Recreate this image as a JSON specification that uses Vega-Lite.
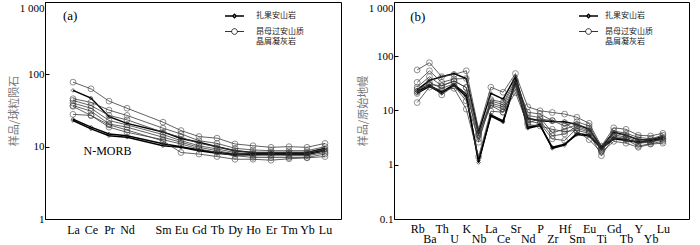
{
 "$schema": "https://vega.github.io/schema/vega-lite/v6.json",
 "padding": {"left": 7, "top": 1, "right": 0, "bottom": 0},
 "spacing": 14,
 "resolve": {"scale": {"strokeWidth": "independent"}, "legend": {"strokeWidth": "independent"}},
 "config": {
  "view": {"stroke": "#000", "strokeWidth": 1},
  "axis": {"grid": false, "domainColor": "#000", "tickColor": "#000", "labelFont": "Liberation Serif", "labelColor": "#000", "titleFont": "Noto Sans CJK SC", "titleColor": "#777", "titleFontWeight": "normal", "titleFontSize": 11},
  "font": "Liberation Serif"
 },
 "datasets": {
  "ree": [
   {"s":"S1","g":"扎果安山岩","e":"La","v":60},{"s":"S1","g":"扎果安山岩","e":"Ce","v":47},{"s":"S1","g":"扎果安山岩","e":"Pr","v":26},{"s":"S1","g":"扎果安山岩","e":"Nd","v":21},{"s":"S1","g":"扎果安山岩","e":"Sm","v":16},{"s":"S1","g":"扎果安山岩","e":"Eu","v":13},{"s":"S1","g":"扎果安山岩","e":"Gd","v":11.5},{"s":"S1","g":"扎果安山岩","e":"Tb","v":10},{"s":"S1","g":"扎果安山岩","e":"Dy","v":8.8},{"s":"S1","g":"扎果安山岩","e":"Ho","v":8.3},{"s":"S1","g":"扎果安山岩","e":"Er","v":8.3},{"s":"S1","g":"扎果安山岩","e":"Tm","v":8.3},{"s":"S1","g":"扎果安山岩","e":"Yb","v":8.3},{"s":"S1","g":"扎果安山岩","e":"Lu","v":9.5},
   {"s":"S2","g":"扎果安山岩","e":"La","v":24},{"s":"S2","g":"扎果安山岩","e":"Ce","v":18.6},{"s":"S2","g":"扎果安山岩","e":"Pr","v":15},{"s":"S2","g":"扎果安山岩","e":"Nd","v":14.2},{"s":"S2","g":"扎果安山岩","e":"Sm","v":11},{"s":"S2","g":"扎果安山岩","e":"Eu","v":10},{"s":"S2","g":"扎果安山岩","e":"Gd","v":9},{"s":"S2","g":"扎果安山岩","e":"Tb","v":8.3},{"s":"S2","g":"扎果安山岩","e":"Dy","v":7.9},{"s":"S2","g":"扎果安山岩","e":"Ho","v":8},{"s":"S2","g":"扎果安山岩","e":"Er","v":8.1},{"s":"S2","g":"扎果安山岩","e":"Tm","v":8},{"s":"S2","g":"扎果安山岩","e":"Yb","v":8},{"s":"S2","g":"扎果安山岩","e":"Lu","v":9},
   {"s":"S3","g":"扎果安山岩","e":"La","v":23},{"s":"S3","g":"扎果安山岩","e":"Ce","v":17.6},{"s":"S3","g":"扎果安山岩","e":"Pr","v":14.2},{"s":"S3","g":"扎果安山岩","e":"Nd","v":13.5},{"s":"S3","g":"扎果安山岩","e":"Sm","v":10.3},{"s":"S3","g":"扎果安山岩","e":"Eu","v":9.8},{"s":"S3","g":"扎果安山岩","e":"Gd","v":8.8},{"s":"S3","g":"扎果安山岩","e":"Tb","v":8.1},{"s":"S3","g":"扎果安山岩","e":"Dy","v":7.7},{"s":"S3","g":"扎果安山岩","e":"Ho","v":7.8},{"s":"S3","g":"扎果安山岩","e":"Er","v":7.9},{"s":"S3","g":"扎果安山岩","e":"Tm","v":7.8},{"s":"S3","g":"扎果安山岩","e":"Yb","v":7.8},{"s":"S3","g":"扎果安山岩","e":"Lu","v":8.8},
   {"s":"S4","g":"昂母过安山质晶屑凝灰岩","e":"La","v":78},{"s":"S4","g":"昂母过安山质晶屑凝灰岩","e":"Ce","v":63},{"s":"S4","g":"昂母过安山质晶屑凝灰岩","e":"Pr","v":42.6},{"s":"S4","g":"昂母过安山质晶屑凝灰岩","e":"Nd","v":34},{"s":"S4","g":"昂母过安山质晶屑凝灰岩","e":"Sm","v":21.8},{"s":"S4","g":"昂母过安山质晶屑凝灰岩","e":"Eu","v":16.7},{"s":"S4","g":"昂母过安山质晶屑凝灰岩","e":"Gd","v":13.8},{"s":"S4","g":"昂母过安山质晶屑凝灰岩","e":"Tb","v":13.1},{"s":"S4","g":"昂母过安山质晶屑凝灰岩","e":"Dy","v":10.9},{"s":"S4","g":"昂母过安山质晶屑凝灰岩","e":"Ho","v":10.3},{"s":"S4","g":"昂母过安山质晶屑凝灰岩","e":"Er","v":9.8},{"s":"S4","g":"昂母过安山质晶屑凝灰岩","e":"Tm","v":10},{"s":"S4","g":"昂母过安山质晶屑凝灰岩","e":"Yb","v":9.8},{"s":"S4","g":"昂母过安山质晶屑凝灰岩","e":"Lu","v":11.1},
   {"s":"S5","g":"昂母过安山质晶屑凝灰岩","e":"La","v":46},{"s":"S5","g":"昂母过安山质晶屑凝灰岩","e":"Ce","v":41},{"s":"S5","g":"昂母过安山质晶屑凝灰岩","e":"Pr","v":32},{"s":"S5","g":"昂母过安山质晶屑凝灰岩","e":"Nd","v":27},{"s":"S5","g":"昂母过安山质晶屑凝灰岩","e":"Sm","v":18},{"s":"S5","g":"昂母过安山质晶屑凝灰岩","e":"Eu","v":15},{"s":"S5","g":"昂母过安山质晶屑凝灰岩","e":"Gd","v":12.1},{"s":"S5","g":"昂母过安山质晶屑凝灰岩","e":"Tb","v":11.1},{"s":"S5","g":"昂母过安山质晶屑凝灰岩","e":"Dy","v":9.5},{"s":"S5","g":"昂母过安山质晶屑凝灰岩","e":"Ho","v":9},{"s":"S5","g":"昂母过安山质晶屑凝灰岩","e":"Er","v":8.8},{"s":"S5","g":"昂母过安山质晶屑凝灰岩","e":"Tm","v":8.8},{"s":"S5","g":"昂母过安山质晶屑凝灰岩","e":"Yb","v":8.8},{"s":"S5","g":"昂母过安山质晶屑凝灰岩","e":"Lu","v":10},
   {"s":"S6","g":"昂母过安山质晶屑凝灰岩","e":"La","v":43.5},{"s":"S6","g":"昂母过安山质晶屑凝灰岩","e":"Ce","v":37},{"s":"S6","g":"昂母过安山质晶屑凝灰岩","e":"Pr","v":27},{"s":"S6","g":"昂母过安山质晶屑凝灰岩","e":"Nd","v":23.5},{"s":"S6","g":"昂母过安山质晶屑凝灰岩","e":"Sm","v":15.8},{"s":"S6","g":"昂母过安山质晶屑凝灰岩","e":"Eu","v":13.5},{"s":"S6","g":"昂母过安山质晶屑凝灰岩","e":"Gd","v":11.1},{"s":"S6","g":"昂母过安山质晶屑凝灰岩","e":"Tb","v":10},{"s":"S6","g":"昂母过安山质晶屑凝灰岩","e":"Dy","v":8.8},{"s":"S6","g":"昂母过安山质晶屑凝灰岩","e":"Ho","v":8.3},{"s":"S6","g":"昂母过安山质晶屑凝灰岩","e":"Er","v":8.3},{"s":"S6","g":"昂母过安山质晶屑凝灰岩","e":"Tm","v":8.3},{"s":"S6","g":"昂母过安山质晶屑凝灰岩","e":"Yb","v":8.3},{"s":"S6","g":"昂母过安山质晶屑凝灰岩","e":"Lu","v":9.3},
   {"s":"S7","g":"昂母过安山质晶屑凝灰岩","e":"La","v":40},{"s":"S7","g":"昂母过安山质晶屑凝灰岩","e":"Ce","v":34},{"s":"S7","g":"昂母过安山质晶屑凝灰岩","e":"Pr","v":23},{"s":"S7","g":"昂母过安山质晶屑凝灰岩","e":"Nd","v":20},{"s":"S7","g":"昂母过安山质晶屑凝灰岩","e":"Sm","v":14.7},{"s":"S7","g":"昂母过安山质晶屑凝灰岩","e":"Eu","v":12.1},{"s":"S7","g":"昂母过安山质晶屑凝灰岩","e":"Gd","v":10.3},{"s":"S7","g":"昂母过安山质晶屑凝灰岩","e":"Tb","v":9.3},{"s":"S7","g":"昂母过安山质晶屑凝灰岩","e":"Dy","v":8.3},{"s":"S7","g":"昂母过安山质晶屑凝灰岩","e":"Ho","v":7.9},{"s":"S7","g":"昂母过安山质晶屑凝灰岩","e":"Er","v":7.9},{"s":"S7","g":"昂母过安山质晶屑凝灰岩","e":"Tm","v":7.9},{"s":"S7","g":"昂母过安山质晶屑凝灰岩","e":"Yb","v":7.9},{"s":"S7","g":"昂母过安山质晶屑凝灰岩","e":"Lu","v":8.8},
   {"s":"S8","g":"昂母过安山质晶屑凝灰岩","e":"La","v":37},{"s":"S8","g":"昂母过安山质晶屑凝灰岩","e":"Ce","v":31},{"s":"S8","g":"昂母过安山质晶屑凝灰岩","e":"Pr","v":20.6},{"s":"S8","g":"昂母过安山质晶屑凝灰岩","e":"Nd","v":18.6},{"s":"S8","g":"昂母过安山质晶屑凝灰岩","e":"Sm","v":13.5},{"s":"S8","g":"昂母过安山质晶屑凝灰岩","e":"Eu","v":11.5},{"s":"S8","g":"昂母过安山质晶屑凝灰岩","e":"Gd","v":9.8},{"s":"S8","g":"昂母过安山质晶屑凝灰岩","e":"Tb","v":8.8},{"s":"S8","g":"昂母过安山质晶屑凝灰岩","e":"Dy","v":7.9},{"s":"S8","g":"昂母过安山质晶屑凝灰岩","e":"Ho","v":7.5},{"s":"S8","g":"昂母过安山质晶屑凝灰岩","e":"Er","v":7.5},{"s":"S8","g":"昂母过安山质晶屑凝灰岩","e":"Tm","v":7.5},{"s":"S8","g":"昂母过安山质晶屑凝灰岩","e":"Yb","v":7.5},{"s":"S8","g":"昂母过安山质晶屑凝灰岩","e":"Lu","v":8.3},
   {"s":"S9","g":"昂母过安山质晶屑凝灰岩","e":"La","v":28},{"s":"S9","g":"昂母过安山质晶屑凝灰岩","e":"Ce","v":27},{"s":"S9","g":"昂母过安山质晶屑凝灰岩","e":"Pr","v":18.6},{"s":"S9","g":"昂母过安山质晶屑凝灰岩","e":"Nd","v":15.8},{"s":"S9","g":"昂母过安山质晶屑凝灰岩","e":"Sm","v":12.5},{"s":"S9","g":"昂母过安山质晶屑凝灰岩","e":"Eu","v":10.9},{"s":"S9","g":"昂母过安山质晶屑凝灰岩","e":"Gd","v":9.3},{"s":"S9","g":"昂母过安山质晶屑凝灰岩","e":"Tb","v":8.3},{"s":"S9","g":"昂母过安山质晶屑凝灰岩","e":"Dy","v":7.5},{"s":"S9","g":"昂母过安山质晶屑凝灰岩","e":"Ho","v":7.1},{"s":"S9","g":"昂母过安山质晶屑凝灰岩","e":"Er","v":7.1},{"s":"S9","g":"昂母过安山质晶屑凝灰岩","e":"Tm","v":7.1},{"s":"S9","g":"昂母过安山质晶屑凝灰岩","e":"Yb","v":7.1},{"s":"S9","g":"昂母过安山质晶屑凝灰岩","e":"Lu","v":7.9},
   {"s":"S10","g":"昂母过安山质晶屑凝灰岩","e":"La","v":36},{"s":"S10","g":"昂母过安山质晶屑凝灰岩","e":"Ce","v":27},{"s":"S10","g":"昂母过安山质晶屑凝灰岩","e":"Pr","v":20},{"s":"S10","g":"昂母过安山质晶屑凝灰岩","e":"Nd","v":17},{"s":"S10","g":"昂母过安山质晶屑凝灰岩","e":"Sm","v":12},{"s":"S10","g":"昂母过安山质晶屑凝灰岩","e":"Eu","v":8.3},{"s":"S10","g":"昂母过安山质晶屑凝灰岩","e":"Gd","v":7.9},{"s":"S10","g":"昂母过安山质晶屑凝灰岩","e":"Tb","v":7.3},{"s":"S10","g":"昂母过安山质晶屑凝灰岩","e":"Dy","v":6.7},{"s":"S10","g":"昂母过安山质晶屑凝灰岩","e":"Ho","v":6.7},{"s":"S10","g":"昂母过安山质晶屑凝灰岩","e":"Er","v":6.5},{"s":"S10","g":"昂母过安山质晶屑凝灰岩","e":"Tm","v":6.8},{"s":"S10","g":"昂母过安山质晶屑凝灰岩","e":"Yb","v":7},{"s":"S10","g":"昂母过安山质晶屑凝灰岩","e":"Lu","v":7.3}
  ],
  "pm": [
   {"s":"S1","g":"扎果安山岩","e":"Rb","v":24},{"s":"S1","g":"扎果安山岩","e":"Ba","v":36},{"s":"S1","g":"扎果安山岩","e":"Th","v":42},{"s":"S1","g":"扎果安山岩","e":"U","v":48},{"s":"S1","g":"扎果安山岩","e":"K","v":39},{"s":"S1","g":"扎果安山岩","e":"Nb","v":4.0},{"s":"S1","g":"扎果安山岩","e":"La","v":20.7},{"s":"S1","g":"扎果安山岩","e":"Ce","v":16.2},{"s":"S1","g":"扎果安山岩","e":"Sr","v":42},{"s":"S1","g":"扎果安山岩","e":"Nd","v":7.2},{"s":"S1","g":"扎果安山岩","e":"P","v":6.5},{"s":"S1","g":"扎果安山岩","e":"Zr","v":6.3},{"s":"S1","g":"扎果安山岩","e":"Hf","v":6.2},{"s":"S1","g":"扎果安山岩","e":"Sm","v":5.5},{"s":"S1","g":"扎果安山岩","e":"Eu","v":4.5},{"s":"S1","g":"扎果安山岩","e":"Ti","v":2.1},{"s":"S1","g":"扎果安山岩","e":"Gd","v":4.0},{"s":"S1","g":"扎果安山岩","e":"Tb","v":3.5},{"s":"S1","g":"扎果安山岩","e":"Y","v":2.9},{"s":"S1","g":"扎果安山岩","e":"Yb","v":2.9},{"s":"S1","g":"扎果安山岩","e":"Lu","v":3.3},
   {"s":"S2","g":"扎果安山岩","e":"Rb","v":22.4},{"s":"S2","g":"扎果安山岩","e":"Ba","v":29},{"s":"S2","g":"扎果安山岩","e":"Th","v":22},{"s":"S2","g":"扎果安山岩","e":"U","v":30},{"s":"S2","g":"扎果安山岩","e":"K","v":20},{"s":"S2","g":"扎果安山岩","e":"Nb","v":1.1},{"s":"S2","g":"扎果安山岩","e":"La","v":8.3},{"s":"S2","g":"扎果安山岩","e":"Ce","v":6.4},{"s":"S2","g":"扎果安山岩","e":"Sr","v":36},{"s":"S2","g":"扎果安山岩","e":"Nd","v":4.9},{"s":"S2","g":"扎果安山岩","e":"P","v":5.5},{"s":"S2","g":"扎果安山岩","e":"Zr","v":2.0},{"s":"S2","g":"扎果安山岩","e":"Hf","v":2.3},{"s":"S2","g":"扎果安山岩","e":"Sm","v":3.8},{"s":"S2","g":"扎果安山岩","e":"Eu","v":3.5},{"s":"S2","g":"扎果安山岩","e":"Ti","v":2.1},{"s":"S2","g":"扎果安山岩","e":"Gd","v":3.1},{"s":"S2","g":"扎果安山岩","e":"Tb","v":2.9},{"s":"S2","g":"扎果安山岩","e":"Y","v":2.6},{"s":"S2","g":"扎果安山岩","e":"Yb","v":2.8},{"s":"S2","g":"扎果安山岩","e":"Lu","v":3.1},
   {"s":"S3","g":"扎果安山岩","e":"Rb","v":20.6},{"s":"S3","g":"扎果安山岩","e":"Ba","v":28},{"s":"S3","g":"扎果安山岩","e":"Th","v":21},{"s":"S3","g":"扎果安山岩","e":"U","v":29},{"s":"S3","g":"扎果安山岩","e":"K","v":18},{"s":"S3","g":"扎果安山岩","e":"Nb","v":1.2},{"s":"S3","g":"扎果安山岩","e":"La","v":7.9},{"s":"S3","g":"扎果安山岩","e":"Ce","v":6.1},{"s":"S3","g":"扎果安山岩","e":"Sr","v":33},{"s":"S3","g":"扎果安山岩","e":"Nd","v":4.7},{"s":"S3","g":"扎果安山岩","e":"P","v":5.3},{"s":"S3","g":"扎果安山岩","e":"Zr","v":2.1},{"s":"S3","g":"扎果安山岩","e":"Hf","v":2.4},{"s":"S3","g":"扎果安山岩","e":"Sm","v":3.6},{"s":"S3","g":"扎果安山岩","e":"Eu","v":3.4},{"s":"S3","g":"扎果安山岩","e":"Ti","v":2.0},{"s":"S3","g":"扎果安山岩","e":"Gd","v":3.0},{"s":"S3","g":"扎果安山岩","e":"Tb","v":2.8},{"s":"S3","g":"扎果安山岩","e":"Y","v":2.6},{"s":"S3","g":"扎果安山岩","e":"Yb","v":2.7},{"s":"S3","g":"扎果安山岩","e":"Lu","v":3.0},
   {"s":"S4","g":"昂母过安山质晶屑凝灰岩","e":"Rb","v":56},{"s":"S4","g":"昂母过安山质晶屑凝灰岩","e":"Ba","v":76},{"s":"S4","g":"昂母过安山质晶屑凝灰岩","e":"Th","v":42},{"s":"S4","g":"昂母过安山质晶屑凝灰岩","e":"U","v":46},{"s":"S4","g":"昂母过安山质晶屑凝灰岩","e":"K","v":54},{"s":"S4","g":"昂母过安山质晶屑凝灰岩","e":"Nb","v":4.5},{"s":"S4","g":"昂母过安山质晶屑凝灰岩","e":"La","v":26.9},{"s":"S4","g":"昂母过安山质晶屑凝灰岩","e":"Ce","v":21.7},{"s":"S4","g":"昂母过安山质晶屑凝灰岩","e":"Sr","v":48},{"s":"S4","g":"昂母过安山质晶屑凝灰岩","e":"Nd","v":11.7},{"s":"S4","g":"昂母过安山质晶屑凝灰岩","e":"P","v":9.9},{"s":"S4","g":"昂母过安山质晶屑凝灰岩","e":"Zr","v":9.2},{"s":"S4","g":"昂母过安山质晶屑凝灰岩","e":"Hf","v":8.6},{"s":"S4","g":"昂母过安山质晶屑凝灰岩","e":"Sm","v":7.5},{"s":"S4","g":"昂母过安山质晶屑凝灰岩","e":"Eu","v":5.8},{"s":"S4","g":"昂母过安山质晶屑凝灰岩","e":"Ti","v":2.2},{"s":"S4","g":"昂母过安山质晶屑凝灰岩","e":"Gd","v":4.8},{"s":"S4","g":"昂母过安山质晶屑凝灰岩","e":"Tb","v":4.5},{"s":"S4","g":"昂母过安山质晶屑凝灰岩","e":"Y","v":3.5},{"s":"S4","g":"昂母过安山质晶屑凝灰岩","e":"Yb","v":3.4},{"s":"S4","g":"昂母过安山质晶屑凝灰岩","e":"Lu","v":3.8},
   {"s":"S5","g":"昂母过安山质晶屑凝灰岩","e":"Rb","v":33},{"s":"S5","g":"昂母过安山质晶屑凝灰岩","e":"Ba","v":54},{"s":"S5","g":"昂母过安山质晶屑凝灰岩","e":"Th","v":33},{"s":"S5","g":"昂母过安山质晶屑凝灰岩","e":"U","v":38},{"s":"S5","g":"昂母过安山质晶屑凝灰岩","e":"K","v":39},{"s":"S5","g":"昂母过安山质晶屑凝灰岩","e":"Nb","v":3.4},{"s":"S5","g":"昂母过安山质晶屑凝灰岩","e":"La","v":15.9},{"s":"S5","g":"昂母过安山质晶屑凝灰岩","e":"Ce","v":14.1},{"s":"S5","g":"昂母过安山质晶屑凝灰岩","e":"Sr","v":36},{"s":"S5","g":"昂母过安山质晶屑凝灰岩","e":"Nd","v":9.3},{"s":"S5","g":"昂母过安山质晶屑凝灰岩","e":"P","v":8.6},{"s":"S5","g":"昂母过安山质晶屑凝灰岩","e":"Zr","v":6.5},{"s":"S5","g":"昂母过安山质晶屑凝灰岩","e":"Hf","v":5.2},{"s":"S5","g":"昂母过安山质晶屑凝灰岩","e":"Sm","v":6.2},{"s":"S5","g":"昂母过安山质晶屑凝灰岩","e":"Eu","v":5.2},{"s":"S5","g":"昂母过安山质晶屑凝灰岩","e":"Ti","v":2.1},{"s":"S5","g":"昂母过安山质晶屑凝灰岩","e":"Gd","v":4.2},{"s":"S5","g":"昂母过安山质晶屑凝灰岩","e":"Tb","v":3.8},{"s":"S5","g":"昂母过安山质晶屑凝灰岩","e":"Y","v":3.2},{"s":"S5","g":"昂母过安山质晶屑凝灰岩","e":"Yb","v":3.0},{"s":"S5","g":"昂母过安山质晶屑凝灰岩","e":"Lu","v":3.5},
   {"s":"S6","g":"昂母过安山质晶屑凝灰岩","e":"Rb","v":27},{"s":"S6","g":"昂母过安山质晶屑凝灰岩","e":"Ba","v":42},{"s":"S6","g":"昂母过安山质晶屑凝灰岩","e":"Th","v":28.5},{"s":"S6","g":"昂母过安山质晶屑凝灰岩","e":"U","v":35},{"s":"S6","g":"昂母过安山质晶屑凝灰岩","e":"K","v":26.5},{"s":"S6","g":"昂母过安山质晶屑凝灰岩","e":"Nb","v":2.6},{"s":"S6","g":"昂母过安山质晶屑凝灰岩","e":"La","v":15},{"s":"S6","g":"昂母过安山质晶屑凝灰岩","e":"Ce","v":12.8},{"s":"S6","g":"昂母过安山质晶屑凝灰岩","e":"Sr","v":33},{"s":"S6","g":"昂母过安山质晶屑凝灰岩","e":"Nd","v":8.1},{"s":"S6","g":"昂母过安山质晶屑凝灰岩","e":"P","v":7.4},{"s":"S6","g":"昂母过安山质晶屑凝灰岩","e":"Zr","v":3.9},{"s":"S6","g":"昂母过安山质晶屑凝灰岩","e":"Hf","v":4.5},{"s":"S6","g":"昂母过安山质晶屑凝灰岩","e":"Sm","v":5.5},{"s":"S6","g":"昂母过安山质晶屑凝灰岩","e":"Eu","v":4.7},{"s":"S6","g":"昂母过安山质晶屑凝灰岩","e":"Ti","v":1.9},{"s":"S6","g":"昂母过安山质晶屑凝灰岩","e":"Gd","v":3.8},{"s":"S6","g":"昂母过安山质晶屑凝灰岩","e":"Tb","v":3.5},{"s":"S6","g":"昂母过安山质晶屑凝灰岩","e":"Y","v":2.9},{"s":"S6","g":"昂母过安山质晶屑凝灰岩","e":"Yb","v":2.9},{"s":"S6","g":"昂母过安山质晶屑凝灰岩","e":"Lu","v":3.2},
   {"s":"S7","g":"昂母过安山质晶屑凝灰岩","e":"Rb","v":22.4},{"s":"S7","g":"昂母过安山质晶屑凝灰岩","e":"Ba","v":33},{"s":"S7","g":"昂母过安山质晶屑凝灰岩","e":"Th","v":25.6},{"s":"S7","g":"昂母过安山质晶屑凝灰岩","e":"U","v":31},{"s":"S7","g":"昂母过安山质晶屑凝灰岩","e":"K","v":20},{"s":"S7","g":"昂母过安山质晶屑凝灰岩","e":"Nb","v":3.6},{"s":"S7","g":"昂母过安山质晶屑凝灰岩","e":"La","v":13.8},{"s":"S7","g":"昂母过安山质晶屑凝灰岩","e":"Ce","v":11.7},{"s":"S7","g":"昂母过安山质晶屑凝灰岩","e":"Sr","v":28.5},{"s":"S7","g":"昂母过安山质晶屑凝灰岩","e":"Nd","v":6.9},{"s":"S7","g":"昂母过安山质晶屑凝灰岩","e":"P","v":6.5},{"s":"S7","g":"昂母过安山质晶屑凝灰岩","e":"Zr","v":3.4},{"s":"S7","g":"昂母过安山质晶屑凝灰岩","e":"Hf","v":3.7},{"s":"S7","g":"昂母过安山质晶屑凝灰岩","e":"Sm","v":5.1},{"s":"S7","g":"昂母过安山质晶屑凝灰岩","e":"Eu","v":4.2},{"s":"S7","g":"昂母过安山质晶屑凝灰岩","e":"Ti","v":2.0},{"s":"S7","g":"昂母过安山质晶屑凝灰岩","e":"Gd","v":3.6},{"s":"S7","g":"昂母过安山质晶屑凝灰岩","e":"Tb","v":3.2},{"s":"S7","g":"昂母过安山质晶屑凝灰岩","e":"Y","v":2.7},{"s":"S7","g":"昂母过安山质晶屑凝灰岩","e":"Yb","v":2.7},{"s":"S7","g":"昂母过安山质晶屑凝灰岩","e":"Lu","v":3.0},
   {"s":"S8","g":"昂母过安山质晶屑凝灰岩","e":"Rb","v":20.6},{"s":"S8","g":"昂母过安山质晶屑凝灰岩","e":"Ba","v":30},{"s":"S8","g":"昂母过安山质晶屑凝灰岩","e":"Th","v":19.4},{"s":"S8","g":"昂母过安山质晶屑凝灰岩","e":"U","v":28.5},{"s":"S8","g":"昂母过安山质晶屑凝灰岩","e":"K","v":15},{"s":"S8","g":"昂母过安山质晶屑凝灰岩","e":"Nb","v":3.0},{"s":"S8","g":"昂母过安山质晶屑凝灰岩","e":"La","v":12.8},{"s":"S8","g":"昂母过安山质晶屑凝灰岩","e":"Ce","v":10.7},{"s":"S8","g":"昂母过安山质晶屑凝灰岩","e":"Sr","v":24.7},{"s":"S8","g":"昂母过安山质晶屑凝灰岩","e":"Nd","v":6.4},{"s":"S8","g":"昂母过安山质晶屑凝灰岩","e":"P","v":5.8},{"s":"S8","g":"昂母过安山质晶屑凝灰岩","e":"Zr","v":3.0},{"s":"S8","g":"昂母过安山质晶屑凝灰岩","e":"Hf","v":2.8},{"s":"S8","g":"昂母过安山质晶屑凝灰岩","e":"Sm","v":4.7},{"s":"S8","g":"昂母过安山质晶屑凝灰岩","e":"Eu","v":4.0},{"s":"S8","g":"昂母过安山质晶屑凝灰岩","e":"Ti","v":1.8},{"s":"S8","g":"昂母过安山质晶屑凝灰岩","e":"Gd","v":3.4},{"s":"S8","g":"昂母过安山质晶屑凝灰岩","e":"Tb","v":3.0},{"s":"S8","g":"昂母过安山质晶屑凝灰岩","e":"Y","v":2.5},{"s":"S8","g":"昂母过安山质晶屑凝灰岩","e":"Yb","v":2.6},{"s":"S8","g":"昂母过安山质晶屑凝灰岩","e":"Lu","v":2.9},
   {"s":"S9","g":"昂母过安山质晶屑凝灰岩","e":"Rb","v":14},{"s":"S9","g":"昂母过安山质晶屑凝灰岩","e":"Ba","v":27},{"s":"S9","g":"昂母过安山质晶屑凝灰岩","e":"Th","v":23.7},{"s":"S9","g":"昂母过安山质晶屑凝灰岩","e":"U","v":25.6},{"s":"S9","g":"昂母过安山质晶屑凝灰岩","e":"K","v":10.6},{"s":"S9","g":"昂母过安山质晶屑凝灰岩","e":"Nb","v":1.4},{"s":"S9","g":"昂母过安山质晶屑凝灰岩","e":"La","v":9.7},{"s":"S9","g":"昂母过安山质晶屑凝灰岩","e":"Ce","v":9.3},{"s":"S9","g":"昂母过安山质晶屑凝灰岩","e":"Sr","v":21.4},{"s":"S9","g":"昂母过安山质晶屑凝灰岩","e":"Nd","v":5.5},{"s":"S9","g":"昂母过安山质晶屑凝灰岩","e":"P","v":5.2},{"s":"S9","g":"昂母过安山质晶屑凝灰岩","e":"Zr","v":4.5},{"s":"S9","g":"昂母过安山质晶屑凝灰岩","e":"Hf","v":4.1},{"s":"S9","g":"昂母过安山质晶屑凝灰岩","e":"Sm","v":4.3},{"s":"S9","g":"昂母过安山质晶屑凝灰岩","e":"Eu","v":3.8},{"s":"S9","g":"昂母过安山质晶屑凝灰岩","e":"Ti","v":1.47},{"s":"S9","g":"昂母过安山质晶屑凝灰岩","e":"Gd","v":3.2},{"s":"S9","g":"昂母过安山质晶屑凝灰岩","e":"Tb","v":2.9},{"s":"S9","g":"昂母过安山质晶屑凝灰岩","e":"Y","v":2.2},{"s":"S9","g":"昂母过安山质晶屑凝灰岩","e":"Yb","v":2.45},{"s":"S9","g":"昂母过安山质晶屑凝灰岩","e":"Lu","v":2.7},
   {"s":"S10","g":"昂母过安山质晶屑凝灰岩","e":"Rb","v":24.7},{"s":"S10","g":"昂母过安山质晶屑凝灰岩","e":"Ba","v":30},{"s":"S10","g":"昂母过安山质晶屑凝灰岩","e":"Th","v":28.5},{"s":"S10","g":"昂母过安山质晶屑凝灰岩","e":"U","v":35},{"s":"S10","g":"昂母过安山质晶屑凝灰岩","e":"K","v":26.5},{"s":"S10","g":"昂母过安山质晶屑凝灰岩","e":"Nb","v":3.9},{"s":"S10","g":"昂母过安山质晶屑凝灰岩","e":"La","v":12.4},{"s":"S10","g":"昂母过安山质晶屑凝灰岩","e":"Ce","v":9.3},{"s":"S10","g":"昂母过安山质晶屑凝灰岩","e":"Sr","v":30},{"s":"S10","g":"昂母过安山质晶屑凝灰岩","e":"Nd","v":5.9},{"s":"S10","g":"昂母过安山质晶屑凝灰岩","e":"P","v":7.0},{"s":"S10","g":"昂母过安山质晶屑凝灰岩","e":"Zr","v":6.5},{"s":"S10","g":"昂母过安山质晶屑凝灰岩","e":"Hf","v":6.0},{"s":"S10","g":"昂母过安山质晶屑凝灰岩","e":"Sm","v":4.1},{"s":"S10","g":"昂母过安山质晶屑凝灰岩","e":"Eu","v":2.9},{"s":"S10","g":"昂母过安山质晶屑凝灰岩","e":"Ti","v":1.7},{"s":"S10","g":"昂母过安山质晶屑凝灰岩","e":"Gd","v":2.7},{"s":"S10","g":"昂母过安山质晶屑凝灰岩","e":"Tb","v":2.5},{"s":"S10","g":"昂母过安山质晶屑凝灰岩","e":"Y","v":2.1},{"s":"S10","g":"昂母过安山质晶屑凝灰岩","e":"Yb","v":2.4},{"s":"S10","g":"昂母过安山质晶屑凝灰岩","e":"Lu","v":2.5}
  ]
 },
 "hconcat": [
  {
   "width": 296, "height": 217,
   "data": {"name": "ree"},
   "layer": [
    {"mark": {"type": "line"},
     "encoding": {
      "x": {"field": "e", "type": "ordinal", "sort": ["La","Ce","Pr","Nd","Sm","Eu","Gd","Tb","Dy","Ho","Er","Tm","Yb","Lu"], "scale": {"type": "point", "domain": ["La","Ce","Pr","Nd","Pm","Sm","Eu","Gd","Tb","Dy","Ho","Er","Tm","Yb","Lu"], "range": [19, 289]}, "axis": {"title": null, "ticks": false, "labelAngle": 0, "labelFontSize": 12, "labelPadding": 5, "labelExpr": "datum.value == 'Pm' ? '' : datum.value"}},
      "y": {"field": "v", "type": "quantitative", "scale": {"type": "log", "domain": [1, 1000]}, "axis": {"title": "样品/球粒陨石", "values": [1, 10, 100, 1000], "labelExpr": "datum.value >= 1000 ? '1 000' : format(datum.value, 'd')", "tickSize": -4, "labelPadding": 5, "labelFontSize": 11, "titlePadding": 0, "labelBaseline": {"expr": "datum.value >= 1000 ? 'top' : 'middle'"}}},
      "detail": {"field": "s"},
      "color": {"condition": {"test": "datum.g == '扎果安山岩'", "value": "#000000"}, "value": "#3a3a3a"},
      "strokeWidth": {"field": "g", "type": "nominal", "scale": {"domain": ["扎果安山岩", "昂母过安山质晶屑凝灰岩"], "range": [1.5, 0.8]},
       "legend": {"orient": "none", "legendX": 179, "legendY": 3.5, "title": null, "padding": 0, "rowPadding": -3.5, "labelOffset": 11, "labelFont": "Noto Sans CJK SC", "labelFontSize": 8, "labelColor": "#222", "labelLimit": 200, "symbolSize": 361, "symbolStrokeColor": "#000", "symbolFillColor": "white",
        "symbolType": {"expr": "datum.value == '扎果安山岩' ? 'M-1,0H-0.18M0.18,0H1M0,-0.18L0.18,0L0,0.18L-0.18,0Z' : 'M-1,0H-0.3M0.3,0H1M0.3,0A0.3,0.3 0 1 1 -0.3,0A0.3,0.3 0 1 1 0.3,0'"},
        "labelExpr": "datum.value == '昂母过安山质晶屑凝灰岩' ? ['昂母过安山质', '\u2002晶屑凝灰岩'] : datum.value"}}
     }},
    {"mark": {"type": "point", "filled": false, "strokeWidth": 0.8},
     "encoding": {
      "x": {"field": "e", "type": "ordinal", "sort": ["La","Ce","Pr","Nd","Sm","Eu","Gd","Tb","Dy","Ho","Er","Tm","Yb","Lu"], "scale": {"type": "point", "domain": ["La","Ce","Pr","Nd","Pm","Sm","Eu","Gd","Tb","Dy","Ho","Er","Tm","Yb","Lu"], "range": [19, 289]}},
      "y": {"field": "v", "type": "quantitative", "scale": {"type": "log", "domain": [1, 1000]}},
      "color": {"condition": {"test": "datum.g == '扎果安山岩'", "value": "#000000"}, "value": "#3a3a3a"},
      "size": {"condition": {"test": "datum.g == '扎果安山岩'", "value": 14}, "value": 34},
      "shape": {"condition": {"test": "datum.g == '扎果安山岩'", "value": "diamond"}, "value": "circle"}
     }},
    {"data": {"values": [{"e": "Pr", "v": 8.8, "t": "N-MORB"}]},
     "mark": {"type": "text", "fontSize": 12, "dx": -1.5, "font": "Liberation Serif", "color": "#000"},
     "encoding": {
      "x": {"field": "e", "type": "ordinal", "scale": {"type": "point", "domain": ["La","Ce","Pr","Nd","Pm","Sm","Eu","Gd","Tb","Dy","Ho","Er","Tm","Yb","Lu"], "range": [19, 289]}},
      "y": {"field": "v", "type": "quantitative", "scale": {"type": "log", "domain": [1, 1000]}},
      "text": {"field": "t"}}},
    {"data": {"values": [{"e": "La", "v": 640, "t": "(a)"}]},
     "mark": {"type": "text", "fontSize": 13, "dx": -10, "align": "left", "font": "Liberation Serif", "color": "#000"},
     "encoding": {
      "x": {"field": "e", "type": "ordinal", "scale": {"type": "point", "domain": ["La","Ce","Pr","Nd","Pm","Sm","Eu","Gd","Tb","Dy","Ho","Er","Tm","Yb","Lu"], "range": [19, 289]}},
      "y": {"field": "v", "type": "quantitative", "scale": {"type": "log", "domain": [1, 1000]}},
      "text": {"field": "t"}}}
   ]
  },
  {
   "width": 295, "height": 217,
   "data": {"name": "pm"},
   "layer": [
    {"mark": {"type": "line"},
     "encoding": {
      "x": {"field": "e", "type": "ordinal", "sort": ["Rb","Ba","Th","U","K","Nb","La","Ce","Sr","Nd","P","Zr","Hf","Sm","Eu","Ti","Gd","Tb","Y","Yb","Lu"], "scale": {"type": "point", "domain": ["Rb","Ba","Th","U","K","Nb","La","Ce","Sr","Nd","P","Zr","Hf","Sm","Eu","Ti","Gd","Tb","Y","Yb","Lu"], "range": [17, 275]}, "axis": {"title": null, "ticks": false, "labelAngle": 0, "labelFontSize": 12, "labelPadding": 4, "labelLineHeight": 10, "labelExpr": "indexof(['Ba','U','Nb','Ce','Nd','Zr','Sm','Ti','Tb','Yb'], datum.value) >= 0 ? ['', datum.value] : datum.value"}},
      "y": {"field": "v", "type": "quantitative", "scale": {"type": "log", "domain": [0.1, 1000]}, "axis": {"title": "样品/原始地幔", "values": [0.1, 1, 10, 100, 1000], "labelExpr": "datum.value >= 1000 ? '1 000' : datum.value < 1 ? '0.1' : format(datum.value, 'd')", "tickSize": -4, "labelPadding": 5, "labelFontSize": 11, "titlePadding": 0, "labelBaseline": {"expr": "datum.value >= 1000 ? 'top' : 'middle'"}}},
      "detail": {"field": "s"},
      "color": {"condition": {"test": "datum.g == '扎果安山岩'", "value": "#000000"}, "value": "#3a3a3a"},
      "strokeWidth": {"field": "g", "type": "nominal", "scale": {"domain": ["扎果安山岩", "昂母过安山质晶屑凝灰岩"], "range": [1.5, 0.8]},
       "legend": {"orient": "none", "legendX": 184, "legendY": 3.5, "title": null, "padding": 0, "rowPadding": -3.5, "labelOffset": 6, "labelFont": "Noto Sans CJK SC", "labelFontSize": 8, "labelColor": "#222", "labelLimit": 200, "symbolSize": 361, "symbolStrokeColor": "#000", "symbolFillColor": "white",
        "symbolType": {"expr": "datum.value == '扎果安山岩' ? 'M-1,0H-0.18M0.18,0H1M0,-0.18L0.18,0L0,0.18L-0.18,0Z' : 'M-1,0H-0.3M0.3,0H1M0.3,0A0.3,0.3 0 1 1 -0.3,0A0.3,0.3 0 1 1 0.3,0'"},
        "labelExpr": "datum.value == '昂母过安山质晶屑凝灰岩' ? ['昂母过安山质', '\u2002晶屑凝灰岩'] : datum.value"}}
     }},
    {"mark": {"type": "point", "filled": false, "strokeWidth": 0.8},
     "encoding": {
      "x": {"field": "e", "type": "ordinal", "sort": ["Rb","Ba","Th","U","K","Nb","La","Ce","Sr","Nd","P","Zr","Hf","Sm","Eu","Ti","Gd","Tb","Y","Yb","Lu"], "scale": {"type": "point", "domain": ["Rb","Ba","Th","U","K","Nb","La","Ce","Sr","Nd","P","Zr","Hf","Sm","Eu","Ti","Gd","Tb","Y","Yb","Lu"], "range": [17, 275]}},
      "y": {"field": "v", "type": "quantitative", "scale": {"type": "log", "domain": [0.1, 1000]}},
      "color": {"condition": {"test": "datum.g == '扎果安山岩'", "value": "#000000"}, "value": "#3a3a3a"},
      "size": {"condition": {"test": "datum.g == '扎果安山岩'", "value": 14}, "value": 34},
      "shape": {"condition": {"test": "datum.g == '扎果安山岩'", "value": "diamond"}, "value": "circle"}
     }},
    {"data": {"values": [{"e": "Rb", "v": 540, "t": "(b)"}]},
     "mark": {"type": "text", "fontSize": 13, "dx": -7, "align": "left", "font": "Liberation Serif", "color": "#000"},
     "encoding": {
      "x": {"field": "e", "type": "ordinal", "scale": {"type": "point", "domain": ["Rb","Ba","Th","U","K","Nb","La","Ce","Sr","Nd","P","Zr","Hf","Sm","Eu","Ti","Gd","Tb","Y","Yb","Lu"], "range": [17, 275]}},
      "y": {"field": "v", "type": "quantitative", "scale": {"type": "log", "domain": [0.1, 1000]}},
      "text": {"field": "t"}}}
   ]
  }
 ]
}
